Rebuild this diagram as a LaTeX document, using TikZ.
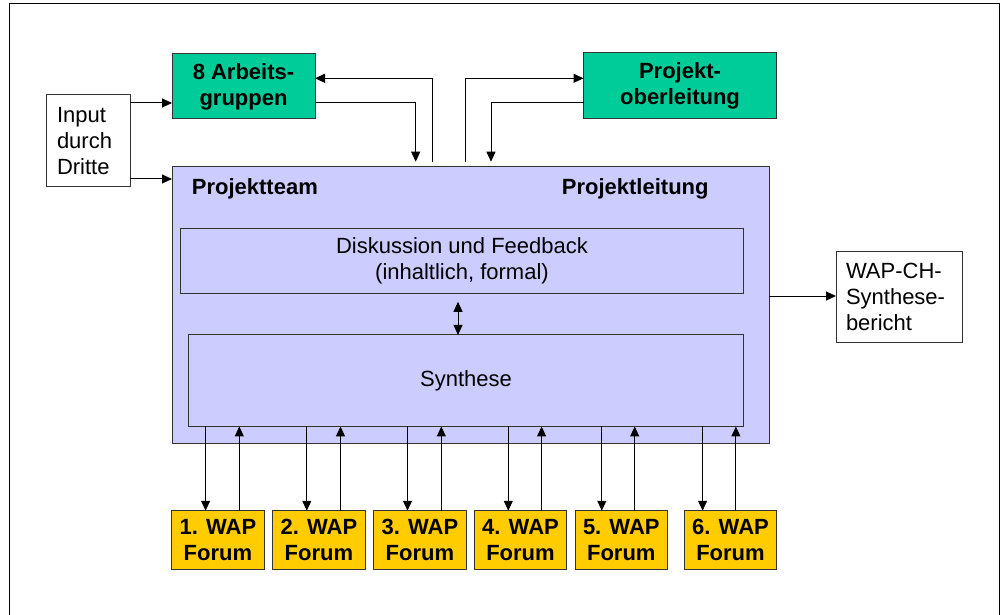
\documentclass[tikz,border=0pt]{standalone}
\usepackage{fontspec}
\setmainfont{Liberation Sans}
\usetikzlibrary{arrows.meta,calc}
\definecolor{lav}{HTML}{CCCCFF}
\definecolor{grn}{HTML}{00CC99}
\definecolor{yel}{HTML}{FFCC00}
\definecolor{bord}{HTML}{333333}
\begin{document}
\begin{tikzpicture}[x=1pt,y=-1pt,
  box/.style={draw=bord, line width=1pt, inner sep=0pt, outer sep=0pt,
    font=\fontsize{22}{26}\selectfont, align=center},
  boldbox/.style={box, font=\fontsize{22}{26}\selectfont\bfseries},
  lbl/.style={anchor=base west, inner sep=0pt, font=\fontsize{22}{26}\selectfont\bfseries},
  arr/.style={line width=1pt, -{Triangle[length=10pt,width=9pt]}},
  darr/.style={line width=1pt, {Triangle[length=10pt,width=9pt]}-{Triangle[length=10pt,width=9pt]}},
  ln/.style={line width=1pt}]
\useasboundingbox (0,0) rectangle (1005,615);
\fill[white] (0,0) rectangle (1005,615);
\draw[ln] (9,625) -- (9,4) -- (999,4) -- (999,625);

% main boxes
\node[box, fill=white, minimum width=84pt, minimum height=92pt, text width=62pt, align=left] (input) at (88,141) {Input\\durch\\Dritte};
\node[boldbox, fill=grn, minimum width=143pt, minimum height=65pt] (ag) at (243.5,86.5) {8 Arbeits-\\gruppen};
\node[boldbox, fill=grn, minimum width=193pt, minimum height=65.5pt] (po) at (680,85.5) {Projekt-\\oberleitung};
\node[box, fill=lav, minimum width=597pt, minimum height=276.7pt] (team) at (470.5,305.3) {};
\node[box, fill=lav, minimum width=562.6pt, minimum height=65pt] (disk) at (462,260.8) {Diskussion und Feedback\\(inhaltlich, formal)};
\node[box, fill=lav, minimum width=555.6pt, minimum height=91.5pt] (syn) at (466,380.7) {Synthese};
\node[box, fill=white, minimum width=126pt, minimum height=91pt, text width=106pt, align=left] (wap) at (899,296.5) {WAP-CH-\\Synthese-\\bericht};
\node[lbl] (lteam) at (191.7,194.3) {Projektteam};
\node[lbl] (lleit) at (561.7,194.3) {Projektleitung};

% forums
\foreach \i/\cx in {1/217.9,2/318.9,3/419.9,4/520.5,5/621.3,6/730.5}{
  \node[boldbox, fill=yel, minimum width=92.5pt, minimum height=58.5pt] (f\i) at (\cx,540) {\i. WAP\\Forum};
}
\foreach \i/\dd/\uu in {1/-12.3/21.4,2/-12.1/21.6,3/-12.4/21.4,4/-12.2/21.1,5/-19.5/13.4,6/-27.9/5.4}{
  \path (f\i.north) ++(\dd,0) coordinate (d\i);
  \path (f\i.north) ++(\uu,0) coordinate (u\i);
  \draw[arr] (d\i |- syn.south) -- (d\i);
  \draw[arr] (u\i) -- (u\i |- syn.south);
}

% input arrows
\coordinate (i1) at (130,103);
\coordinate (i2) at (130,179);
\draw[arr] (i1) -- (i1 -| ag.west);
\draw[arr] (i2) -- (i2 -| team.west);

% Arbeitsgruppen loop
\coordinate (a1) at (315,103);
\coordinate (c1) at (415.7,161.7);
\draw[arr] (a1 -| ag.east) -| (c1);
\coordinate (c2) at (432.3,162);
\coordinate (k2) at (432.3,78.3);
\draw[arr] (c2) -- (k2) -- (k2 -| ag.east);

% Projektoberleitung loop
\coordinate (c3) at (465.7,162);
\coordinate (k3) at (465.7,78.3);
\draw[arr] (c3) -- (k3) -- (k3 -| po.west);
\coordinate (p4) at (583,102.7);
\coordinate (c4) at (491,161.7);
\draw[arr] (p4 -| po.west) -| (c4);

% to Synthesebericht
\coordinate (t5) at (769,296);
\draw[arr] (t5 -| team.east) -- (t5 -| wap.west);

% Diskussion <-> Synthese
\coordinate (m1) at (458,293.3);
\draw[darr, shorten <=8.5pt] (m1 |- disk.south) -- (m1 |- syn.north);
\end{tikzpicture}
\end{document}
